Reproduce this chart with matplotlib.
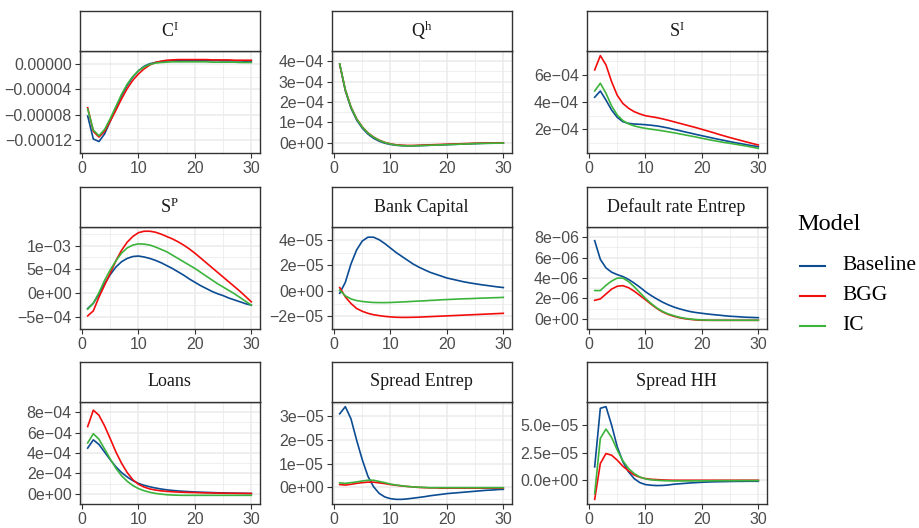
import numpy as np
import matplotlib
matplotlib.use('Agg')
import matplotlib.pyplot as plt
from matplotlib.lines import Line2D

# impulse responses, periods 1..30
periods = np.arange(1, 31)
models = ['Baseline', 'BGG', 'IC']
colors = {'Baseline': '#0B4C93', 'BGG': '#F20D0D', 'IC': '#3CB43C'}

ci_base = np.array([-8.2, -11.8, -12.2, -11.0, -9.0, -7.0, -5.0, -3.4, -2.1, -1.1, -0.4, 0.0, 0.2, 0.35, 0.45,
                    0.5, 0.5, 0.5, 0.5, 0.5, 0.5, 0.5, 0.5, 0.5, 0.45, 0.45, 0.45, 0.45, 0.4, 0.4]) * 1e-5
ci_bgg = np.array([-6.9, -10.6, -11.5, -10.6, -9.0, -7.3, -5.5, -3.9, -2.6, -1.6, -0.8, -0.2, 0.2, 0.4, 0.55,
                   0.6, 0.65, 0.65, 0.65, 0.65, 0.65, 0.65, 0.6, 0.6, 0.6, 0.6, 0.55, 0.55, 0.55, 0.55]) * 1e-5
ci_ic = np.array([-7.1, -10.4, -11.3, -10.3, -8.6, -6.7, -4.8, -3.2, -2.0, -1.1, -0.5, -0.1, 0.1, 0.2, 0.25,
                  0.3, 0.3, 0.3, 0.3, 0.3, 0.3, 0.3, 0.25, 0.25, 0.25, 0.25, 0.25, 0.2, 0.2, 0.2]) * 1e-5

qh_base = np.array([3.85, 2.55, 1.70, 1.12, 0.72, 0.43, 0.22, 0.08, -0.02, -0.08, -0.12, -0.14, -0.15, -0.15, -0.14,
                    -0.13, -0.12, -0.11, -0.10, -0.09, -0.08, -0.07, -0.06, -0.05, -0.04, -0.03, -0.02, -0.02, -0.01, -0.01]) * 1e-4
qh_bgg = np.array([3.85, 2.60, 1.76, 1.18, 0.78, 0.49, 0.28, 0.13, 0.02, -0.05, -0.10, -0.12, -0.13, -0.13, -0.12,
                   -0.11, -0.10, -0.09, -0.08, -0.07, -0.06, -0.05, -0.04, -0.03, -0.02, -0.02, -0.01, -0.01, 0.0, 0.0]) * 1e-4
qh_ic = np.array([3.87, 2.60, 1.75, 1.17, 0.77, 0.48, 0.27, 0.12, 0.01, -0.06, -0.11, -0.14, -0.15, -0.15, -0.14,
                  -0.13, -0.12, -0.11, -0.10, -0.09, -0.08, -0.07, -0.06, -0.05, -0.04, -0.03, -0.03, -0.02, -0.02, -0.01]) * 1e-4

si_base = np.array([4.36, 4.82, 4.15, 3.42, 2.88, 2.56, 2.44, 2.39, 2.37, 2.34, 2.30, 2.25, 2.18, 2.10, 2.00,
                    1.91, 1.81, 1.72, 1.62, 1.53, 1.44, 1.35, 1.26, 1.18, 1.09, 1.01, 0.94, 0.86, 0.79, 0.72]) * 1e-4
si_bgg = np.array([6.37, 7.42, 6.74, 5.5, 4.5, 3.9, 3.55, 3.3, 3.13, 3.0, 2.93, 2.86, 2.77, 2.67, 2.56,
                   2.45, 2.34, 2.23, 2.12, 2.0, 1.88, 1.76, 1.63, 1.51, 1.39, 1.28, 1.17, 1.06, 0.95, 0.85]) * 1e-4
si_ic = np.array([4.82, 5.39, 4.65, 3.72, 3.05, 2.64, 2.40, 2.25, 2.15, 2.07, 2.01, 1.95, 1.89, 1.82, 1.75,
                  1.67, 1.59, 1.51, 1.43, 1.34, 1.26, 1.18, 1.10, 1.03, 0.97, 0.90, 0.83, 0.76, 0.68, 0.60]) * 1e-4

sp_base = np.array([-3.2, -2.1, -0.2, 2.0, 3.9, 5.5, 6.6, 7.3, 7.7, 7.8, 7.6, 7.3, 6.9, 6.4, 5.8,
                    5.2, 4.5, 3.8, 3.0, 2.3, 1.6, 1.0, 0.4, -0.1, -0.5, -1.0, -1.4, -1.8, -2.2, -2.5]) * 1e-4
sp_bgg = np.array([-4.75, -3.7, -0.8, 1.7, 4.2, 6.8, 9.0, 10.7, 11.9, 12.7, 13.0, 13.0, 12.8, 12.4, 11.9,
                   11.4, 10.8, 10.1, 9.3, 8.4, 7.4, 6.4, 5.4, 4.4, 3.4, 2.4, 1.4, 0.4, -0.7, -1.8]) * 1e-4
sp_ic = np.array([-3.35, -2.1, 0.1, 2.7, 4.9, 6.8, 8.4, 9.5, 10.1, 10.35, 10.3, 10.1, 9.7, 9.2, 8.7,
                  8.0, 7.3, 6.6, 5.9, 5.2, 4.4, 3.6, 2.8, 2.0, 1.3, 0.6, -0.1, -0.9, -1.7, -2.5]) * 1e-4

bk_base = np.array([-0.2, 0.66, 2.1, 3.2, 3.9, 4.2, 4.2, 4.0, 3.7, 3.35, 3.0, 2.7, 2.4, 2.1, 1.86,
                    1.65, 1.45, 1.3, 1.15, 1.0, 0.9, 0.8, 0.7, 0.62, 0.55, 0.48, 0.42, 0.36, 0.3, 0.25]) * 1e-5
bk_bgg = np.array([0.25, -0.48, -1.0, -1.39, -1.61, -1.77, -1.88, -1.95, -2.01, -2.05, -2.08, -2.09, -2.09, -2.08, -2.07,
                   -2.05, -2.03, -2.01, -1.99, -1.97, -1.95, -1.93, -1.91, -1.89, -1.87, -1.85, -1.83, -1.81, -1.79, -1.77]) * 1e-5
bk_ic = np.array([0.05, -0.4, -0.64, -0.77, -0.84, -0.89, -0.92, -0.93, -0.93, -0.92, -0.9, -0.88, -0.86, -0.83, -0.81,
                  -0.79, -0.76, -0.74, -0.71, -0.69, -0.67, -0.65, -0.63, -0.62, -0.6, -0.58, -0.57, -0.55, -0.54, -0.52]) * 1e-5

dr_base = np.array([7.66, 5.83, 4.99, 4.57, 4.33, 4.14, 3.86, 3.5, 3.1, 2.66, 2.28, 1.95, 1.64, 1.38, 1.16,
                    0.98, 0.83, 0.7, 0.61, 0.54, 0.47, 0.41, 0.36, 0.3, 0.25, 0.22, 0.18, 0.15, 0.13, 0.11]) * 1e-6
dr_bgg = np.array([1.81, 1.95, 2.43, 2.91, 3.19, 3.25, 3.05, 2.71, 2.29, 1.87, 1.43, 1.02, 0.68, 0.43, 0.25,
                   0.11, 0.01, -0.06, -0.11, -0.14, -0.15, -0.15, -0.15, -0.15, -0.15, -0.15, -0.15, -0.15, -0.15, -0.15]) * 1e-6
dr_ic = np.array([2.77, 2.77, 3.28, 3.7, 3.99, 3.99, 3.65, 3.14, 2.57, 2.0, 1.5, 1.07, 0.73, 0.48, 0.31,
                  0.15, 0.05, -0.03, -0.08, -0.11, -0.13, -0.14, -0.14, -0.14, -0.14, -0.14, -0.14, -0.14, -0.14, -0.14]) * 1e-6

ln_base = np.array([4.48, 5.29, 4.84, 4.09, 3.34, 2.65, 2.08, 1.65, 1.29, 1.02, 0.83, 0.69, 0.57, 0.47, 0.39,
                    0.33, 0.28, 0.24, 0.21, 0.18, 0.16, 0.14, 0.12, 0.1, 0.09, 0.07, 0.06, 0.05, 0.04, 0.03]) * 1e-4
ln_bgg = np.array([6.59, 8.2, 7.7, 6.65, 5.4, 4.1, 3.0, 2.08, 1.38, 0.93, 0.66, 0.48, 0.37, 0.29, 0.24,
                   0.2, 0.17, 0.15, 0.13, 0.12, 0.1, 0.09, 0.08, 0.07, 0.06, 0.05, 0.05, 0.04, 0.04, 0.03]) * 1e-4
ln_ic = np.array([4.99, 5.89, 5.35, 4.39, 3.4, 2.5, 1.77, 1.23, 0.81, 0.51, 0.3, 0.15, 0.04, -0.03, -0.09,
                  -0.12, -0.14, -0.15, -0.15, -0.15, -0.15, -0.15, -0.15, -0.15, -0.15, -0.15, -0.15, -0.15, -0.15, -0.15]) * 1e-4

se_base = np.array([3.08, 3.38, 2.87, 1.98, 1.16, 0.47, 0.03, -0.25, -0.4, -0.47, -0.5, -0.5, -0.48, -0.45, -0.42,
                    -0.39, -0.35, -0.32, -0.29, -0.26, -0.24, -0.22, -0.2, -0.18, -0.16, -0.14, -0.12, -0.11, -0.09, -0.08]) * 1e-5
se_bgg = np.array([0.12, 0.1, 0.13, 0.17, 0.2, 0.22, 0.22, 0.19, 0.16, 0.12, 0.09, 0.06, 0.04, 0.02, 0.0,
                   -0.01, -0.02, -0.02, -0.03, -0.03, -0.03, -0.03, -0.03, -0.03, -0.03, -0.03, -0.03, -0.03, -0.03, -0.03]) * 1e-5
se_ic = np.array([0.19, 0.17, 0.2, 0.23, 0.27, 0.3, 0.3, 0.25, 0.2, 0.14, 0.1, 0.07, 0.04, 0.02, 0.01,
                  0.0, -0.01, -0.01, -0.01, -0.01, -0.01, -0.01, -0.01, -0.01, -0.01, -0.01, -0.01, -0.01, -0.01, -0.01]) * 1e-5

sh_base = np.array([1.21, 6.52, 6.67, 5.0, 3.03, 1.67, 0.76, 0.15, -0.21, -0.39, -0.45, -0.48, -0.47, -0.43, -0.36,
                    -0.32, -0.28, -0.24, -0.21, -0.18, -0.16, -0.14, -0.13, -0.12, -0.11, -0.1, -0.1, -0.09, -0.09, -0.09]) * 1e-5
sh_bgg = np.array([-1.73, 1.52, 2.42, 2.27, 1.82, 1.27, 0.85, 0.48, 0.27, 0.15, 0.09, 0.06, 0.03, 0.01, 0.0,
                   0.0, 0.0, 0.0, 0.0, 0.0, 0.0, 0.0, 0.0, 0.0, 0.0, 0.0, 0.0, 0.0, 0.0, 0.0]) * 1e-5
sh_ic = np.array([-1.21, 3.79, 4.64, 3.88, 2.73, 1.76, 1.06, 0.61, 0.3, 0.12, 0.04, 0.0, -0.03, -0.05, -0.06,
                  -0.06, -0.06, -0.06, -0.05, -0.05, -0.05, -0.05, -0.04, -0.04, -0.04, -0.04, -0.03, -0.03, -0.03, -0.03]) * 1e-5

titles = [r'$\mathrm{C^{I}}$', r'$\mathrm{Q^{h}}$', r'$\mathrm{S^{I}}$',
          r'$\mathrm{S^{P}}$', 'Bank Capital', 'Default rate Entrep',
          'Loans', 'Spread Entrep', 'Spread HH']
series = [(ci_base, ci_bgg, ci_ic), (qh_base, qh_bgg, qh_ic), (si_base, si_bgg, si_ic),
          (sp_base, sp_bgg, sp_ic), (bk_base, bk_bgg, bk_ic), (dr_base, dr_bgg, dr_ic),
          (ln_base, ln_bgg, ln_ic), (se_base, se_bgg, se_ic), (sh_base, sh_bgg, sh_ic)]
y_breaks = [[-1.2e-4, -8e-5, -4e-5, 0.0], [0.0, 1e-4, 2e-4, 3e-4, 4e-4], [2e-4, 4e-4, 6e-4],
            [-5e-4, 0.0, 5e-4, 1e-3], [-2e-5, 0.0, 2e-5, 4e-5], [0.0, 2e-6, 4e-6, 6e-6, 8e-6],
            [0.0, 2e-4, 4e-4, 6e-4, 8e-4], [0.0, 1e-5, 2e-5, 3e-5], [0.0, 2.5e-5, 5e-5]]
y_labels = [['\u22120.00012', '\u22120.00008', '\u22120.00004', '0.00000'],
            ['0e+00', '1e\u221204', '2e\u221204', '3e\u221204', '4e\u221204'],
            ['2e\u221204', '4e\u221204', '6e\u221204'],
            ['\u22125e\u221204', '0e+00', '5e\u221204', '1e\u221203'],
            ['\u22122e\u221205', '0e+00', '2e\u221205', '4e\u221205'],
            ['0e+00', '2e\u221206', '4e\u221206', '6e\u221206', '8e\u221206'],
            ['0e+00', '2e\u221204', '4e\u221204', '6e\u221204', '8e\u221204'],
            ['0e+00', '1e\u221205', '2e\u221205', '3e\u221205'],
            ['0.0e+00', '2.5e\u221205', '5.0e\u221205']]
x_breaks = [0, 10, 20, 30]

plt.rcParams['font.family'] = ['Liberation Sans', 'DejaVu Sans']
plt.rcParams['mathtext.fontset'] = 'custom'
plt.rcParams['mathtext.rm'] = 'Liberation Serif'

W, H = 919, 528
fig = plt.figure(figsize=(W / 100, H / 100), dpi=100)

def rect(x0, ytop, w, h):
    return [x0 / W, 1 - (ytop + h) / H, w / W, h / H]

col_x = [79.5, 331.5, 586.5]
row_top = [11, 187, 362]
pw, sh, ph = 180, 40, 102
dark = '#333333'
grid = '#EBEBEB'

for i in range(9):
    r, c = divmod(i, 3)
    ax = fig.add_axes(rect(col_x[c], row_top[r] + sh, pw, ph))
    st = fig.add_axes(rect(col_x[c], row_top[r], pw, sh))

    for m, y in zip(models, series[i]):
        ax.plot(periods, y, color=colors[m], lw=1.2, zorder=3)

    allv = np.concatenate(series[i])
    lo, hi = allv.min(), allv.max()
    pad = (hi - lo) * 0.05
    ax.set_ylim(lo - pad, hi + pad)
    ax.set_xlim(1 - 29 * 0.05, 30 + 29 * 0.05)

    b = y_breaks[i]
    step = b[1] - b[0]
    minor = [b[0] - step / 2] + [v + step / 2 for v in b]
    ax.set_yticks(b)
    ax.set_yticklabels(y_labels[i])
    ax.set_yticks(minor, minor=True)
    ax.set_xticks(x_breaks)
    ax.set_xticks([5, 15, 25], minor=True)
    ax.grid(which='major', color=grid, lw=1.1, zorder=0)
    ax.grid(which='minor', color=grid, lw=0.55, zorder=0)
    ax.tick_params(which='minor', length=0)
    ax.tick_params(which='major', length=3.5, width=0.8, color=dark, pad=2,
                   labelsize=11.5, labelcolor='#4D4D4D')
    for s in ax.spines.values():
        s.set_color(dark)
        s.set_linewidth(1.0)

    st.set_xticks([])
    st.set_yticks([])
    for s in st.spines.values():
        s.set_color(dark)
        s.set_linewidth(1.0)
    st.text(0.5, 0.5, titles[i], ha='center', va='center', fontsize=13,
            family='Liberation Serif', color='#1A1A1A', transform=st.transAxes)

# legend drawn by hand to match the ggplot guide spacing
fig.text(797 / W, 1 - 225 / H, 'Model', ha='left', va='center', fontsize=17.5,
         family='Liberation Serif', color='black')
leg_y = [266, 296, 326]
for m, y in zip(models, leg_y):
    fig.add_artist(Line2D([800 / W, 825 / W], [1 - y / H, 1 - y / H], color=colors[m],
                          lw=1.5, transform=fig.transFigure))
    fig.text(842 / W, 1 - y / H, m, ha='left', va='center', fontsize=15.5,
             family='Liberation Serif', color='black')

fig.savefig('out.png', dpi=100)
